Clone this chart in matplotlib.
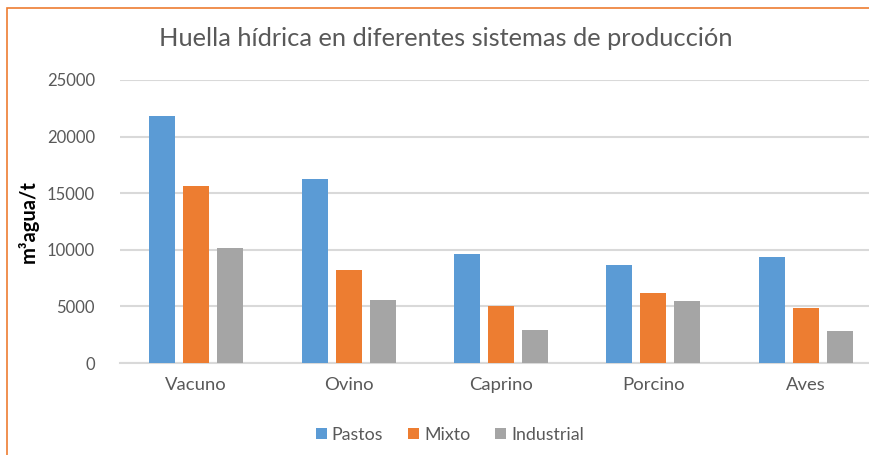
import numpy as np
import matplotlib.pyplot as plt
from matplotlib.patches import Rectangle

# Huella hidrica por especie y sistema de produccion (m3 agua / t)
especies = ['Vacuno', 'Ovino', 'Caprino', 'Porcino', 'Aves']
pastos = [21800, 16250, 9600, 8700, 9350]
mixto = [15650, 8250, 5000, 6200, 4900]
industrial = [10200, 5550, 2900, 5500, 2850]

sistemas = ['Pastos', 'Mixto', 'Industrial']
colores = ['#5B9BD5', '#ED7D31', '#A5A5A5']

plt.rcParams['font.family'] = ['Lato', 'DejaVu Sans']

fig = plt.figure(figsize=(8.69, 4.55), dpi=100)
fig.patch.set_facecolor('white')

# marco naranja del grafico
fig.patches.append(Rectangle((7 / 869, -0.2), 1.2, 1.2 - 8 / 455,
                             transform=fig.transFigure, fill=False,
                             edgecolor='#ED7D31', linewidth=1.2))

ax = fig.add_axes([120 / 869, 92 / 455, 762 / 869, 283 / 455])

x = np.arange(len(especies))
ancho = 0.17
paso = 0.223
for i, (serie, color, nombre) in enumerate(zip([pastos, mixto, industrial], colores, sistemas)):
    ax.bar(x + (i - 1) * paso, serie, ancho, color=color, label=nombre, zorder=3)

ax.set_xlim(-0.5, len(especies) - 0.5)
ax.set_ylim(0, 25000)
ax.set_yticks(np.arange(0, 25001, 5000))
ax.set_xticks(x)
ax.set_xticklabels(especies)
ax.grid(axis='y', color='#D9D9D9', linewidth=1.5, zorder=0)
for s in ['top', 'right', 'left']:
    ax.spines[s].set_visible(False)
ax.spines['bottom'].set_color('#D9D9D9')
ax.spines['bottom'].set_linewidth(1.5)
ax.tick_params(axis='y', length=0, labelsize=12, colors='#595959', pad=18)
ax.tick_params(axis='x', length=0, labelsize=13.3, colors='#595959', pad=10)

ax.set_ylabel('m³agua/t', fontsize=14.5, fontweight='bold', color='black', labelpad=6)

fig.text(446 / 869, 1 - 38 / 455, 'Huella hídrica en diferentes sistemas de producción',
         ha='center', va='center', fontsize=18.3, color='#595959')

fig.legend(loc='center', bbox_to_anchor=(450 / 869, 1 - 435 / 455), ncol=3, frameon=False,
           fontsize=12.8, labelcolor='#595959', handlelength=0.6, handleheight=0.6,
           handletextpad=0.3, columnspacing=1.4)

fig.savefig('out.png', dpi=100)
